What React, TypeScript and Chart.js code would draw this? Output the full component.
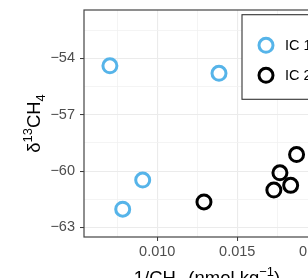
import React, { useEffect, useRef } from "react";
import { Chart, registerables } from "chart.js";

Chart.register(...registerables);

// ---- data ----
const seriesLabels = ["IC 1", "IC 2"];
const seriesColors = ["#56B4E9", "#000000"];
const ic1X = [0.00704, 0.01386, 0.00909, 0.00784];
const ic1Y = [-54.39, -54.79, -60.48, -62.03];
const ic2X = [0.01292, 0.01729, 0.01767, 0.01834, 0.01871];
const ic2Y = [-61.64, -61.01, -60.09, -60.76, -59.12];

const xMin = 0.00542;
const xMax = 0.0208;
const yMin = -63.51;
const yMax = -51.42;
const xStep = 0.0025; // minor step, majors every 0.005
const yStep = 1.5; // minor step, majors every 3
const xMajor = 0.005;
const yMajor = 3;

const FONT = "'Liberation Sans', Arial, Helvetica, sans-serif";

const isMajor = (v: number, m: number) => Math.abs(v / m - Math.round(v / m)) < 1e-6;
const fmtNeg = (v: number) => (v < 0 ? "\u2212" + String(Math.abs(v)) : String(v));

type Seg = { t: string; s: number; dy: number };

function drawSegs(ctx: CanvasRenderingContext2D, segs: Seg[], size: number, cx: number) {
  let total = 0;
  const widths = segs.map((g) => {
    ctx.font = `${size * g.s}px ${FONT}`;
    const w = ctx.measureText(g.t).width;
    total += w;
    return w;
  });
  let x = cx - total / 2;
  segs.forEach((g, i) => {
    ctx.font = `${size * g.s}px ${FONT}`;
    ctx.fillText(g.t, x, g.dy);
    x += widths[i];
  });
}

const decorPlugin = {
  id: "decor",
  afterDraw(chart: any) {
    const ctx: CanvasRenderingContext2D = chart.ctx;
    const ca = chart.chartArea;
    ctx.save();
    // panel border
    ctx.strokeStyle = "#444444";
    ctx.lineWidth = 1.2;
    ctx.strokeRect(ca.left, ca.top, ca.right - ca.left, ca.bottom - ca.top);

    // legend
    const lx = ca.left + 158;
    const ly = ca.top + 4.7;
    const lw = 82;
    const lh = 84.6;
    ctx.fillStyle = "#ffffff";
    ctx.fillRect(lx, ly, lw, lh);
    ctx.strokeStyle = "#333333";
    ctx.lineWidth = 1.1;
    ctx.strokeRect(lx, ly, lw, lh);
    chart.data.datasets.forEach((ds: any, i: number) => {
      const cy = ly + 30.6 + i * 30;
      ctx.beginPath();
      ctx.arc(lx + 24, cy, 7, 0, Math.PI * 2);
      ctx.strokeStyle = ds.borderColor;
      ctx.lineWidth = 3;
      ctx.stroke();
      ctx.fillStyle = "#000000";
      ctx.font = `14.5px ${FONT}`;
      ctx.textBaseline = "middle";
      ctx.textAlign = "left";
      ctx.fillText(ds.label, lx + 43, cy + 0.5);
    });

    // axis titles
    ctx.fillStyle = "#000000";
    ctx.textBaseline = "alphabetic";
    ctx.textAlign = "left";
    const tSize = 18.5;
    // x title
    ctx.save();
    ctx.translate(0, 284);
    drawSegs(
      ctx,
      [
        { t: "1/CH", s: 1, dy: 0 },
        { t: "4", s: 0.7, dy: 5 },
        { t: " (nmol kg", s: 1, dy: 0 },
        { t: "\u22121", s: 0.7, dy: -8 },
        { t: ")", s: 1, dy: 0 },
      ],
      tSize,
      (ca.left + ca.right) / 2
    );
    ctx.restore();
    // y title
    ctx.save();
    ctx.translate(40, (ca.top + ca.bottom) / 2);
    ctx.rotate(-Math.PI / 2);
    drawSegs(
      ctx,
      [
        { t: "\u03B4", s: 1, dy: 0 },
        { t: "13", s: 0.7, dy: -8 },
        { t: "CH", s: 1, dy: 0 },
        { t: "4", s: 0.7, dy: 5 },
      ],
      tSize,
      0
    );
    ctx.restore();
    ctx.restore();
  },
};

export default function App() {
  const ref = useRef<HTMLCanvasElement | null>(null);

  useEffect(() => {
    if (!ref.current) return;
    const mk = (xs: number[], ys: number[]) => xs.map((x, i) => ({ x, y: ys[i] }));
    const chart = new Chart(ref.current, {
      type: "scatter",
      data: {
        datasets: [
          {
            label: seriesLabels[0],
            data: mk(ic1X, ic1Y),
            borderColor: seriesColors[0],
            backgroundColor: "rgba(0,0,0,0)",
            pointRadius: 7,
            pointHoverRadius: 7,
            borderWidth: 3,
          },
          {
            label: seriesLabels[1],
            data: mk(ic2X, ic2Y),
            borderColor: seriesColors[1],
            backgroundColor: "rgba(0,0,0,0)",
            pointRadius: 7,
            pointHoverRadius: 7,
            borderWidth: 3,
          },
        ],
      },
      options: {
        responsive: false,
        animation: false,
        devicePixelRatio: 1,
        layout: { padding: { top: 8, right: 50, bottom: 0, left: 0 } },
        plugins: { legend: { display: false }, tooltip: { enabled: false } },
        scales: {
          x: {
            type: "linear",
            min: xMin,
            max: xMax,
            border: { display: false },
            grid: {
              color: (c: any) => (c.tick && isMajor(c.tick.value, xMajor) ? "#EBEBEB" : "#F1F1F1"),
              lineWidth: (c: any) => (c.tick && isMajor(c.tick.value, xMajor) ? 1.1 : 0.8),
              tickColor: (c: any) => (c.tick && isMajor(c.tick.value, xMajor) ? "#333333" : "rgba(0,0,0,0)"),
              tickLength: 4,
              tickWidth: 1,
              drawTicks: true,
            },
            ticks: {
              stepSize: xStep,
              includeBounds: false,
              autoSkip: false,
              maxRotation: 0,
              padding: 2,
              color: "#4D4D4D",
              font: { size: 14.5, family: FONT },
              callback: (v: any) => (isMajor(Number(v), xMajor) ? Number(v).toFixed(3) : ""),
            },
            afterFit: (s: any) => {
              s.height = 63;
              s.paddingLeft = 0;
              s.paddingRight = 0;
              s.paddingTop = 0;
              s.paddingBottom = 0;
            },
          },
          y: {
            type: "linear",
            min: yMin,
            max: yMax,
            border: { display: false },
            grid: {
              color: (c: any) => (c.tick && isMajor(c.tick.value, yMajor) ? "#EBEBEB" : "#F1F1F1"),
              lineWidth: (c: any) => (c.tick && isMajor(c.tick.value, yMajor) ? 1.1 : 0.8),
              tickColor: (c: any) => (c.tick && isMajor(c.tick.value, yMajor) ? "#333333" : "rgba(0,0,0,0)"),
              tickLength: 4,
              tickWidth: 1,
              drawTicks: true,
            },
            ticks: {
              stepSize: yStep,
              includeBounds: false,
              autoSkip: false,
              padding: 5,
              color: "#4D4D4D",
              font: { size: 14.5, family: FONT },
              callback: (v: any) => (isMajor(Number(v), yMajor) ? fmtNeg(Number(v)) : ""),
            },
            afterFit: (s: any) => {
              s.width = 84;
              s.paddingLeft = 0;
              s.paddingRight = 0;
              s.paddingTop = 0;
              s.paddingBottom = 0;
            },
          },
        },
      } as any,
      plugins: [decorPlugin],
    });
    return () => chart.destroy();
  }, []);

  return (
    <div
      style={{
        position: "fixed",
        left: 0,
        top: 0,
        width: 308,
        height: 278,
        overflow: "hidden",
        background: "#ffffff",
      }}
    >
      <canvas ref={ref} width={380} height={300} style={{ display: "block", width: 380, height: 300 }} />
    </div>
  );
}
